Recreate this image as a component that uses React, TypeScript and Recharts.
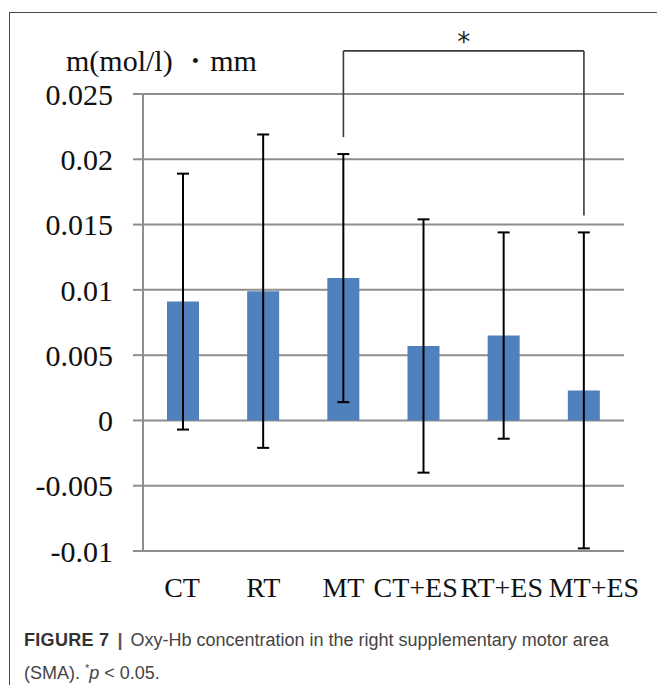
import React from 'react';
import { BarChart, Bar, XAxis, YAxis, CartesianGrid, ErrorBar, ReferenceLine, Label } from 'recharts';

const categories = ['CT', 'RT', 'MT', 'CT+ES', 'RT+ES', 'MT+ES'];
const meanValues = [0.0091, 0.0099, 0.0109, 0.0057, 0.0065, 0.0023];
const sdValues = [0.0098, 0.012, 0.0095, 0.0097, 0.0079, 0.0121];
const yTicks = [-0.01, -0.005, 0, 0.005, 0.01, 0.015, 0.02, 0.025];
const bracketTop = 0.0283;
const bracketLeftBottom = 0.0217;
const bracketRightBottom = 0.0157;
const bracketFrom = 'MT';
const bracketTo = 'MT+ES';

// horizontal nudges of the category labels (as in the source, long labels are shifted to avoid overlap)
const labelNudge = [-1, 0, 0, -8, -2, 10];

const data = categories.map((c, i) => ({ name: c, value: meanValues[i], err: sdValues[i] }));

const serif = '"Liberation Serif", "Times New Roman", serif';
const gridColor = '#8e8e8e';
const bracketColor = '#3a3a3a';

const CategoryTick = (props: any) => {
  const { x, y, payload } = props;
  const idx = payload && typeof payload.index === 'number' ? payload.index : categories.indexOf(payload.value);
  const dx = labelNudge[idx] || 0;
  return (
    <text x={x + dx} y={y} dy="0.71em" textAnchor="middle" fontSize={28} fontFamily={serif} fill="#111">
      {payload.value}
    </text>
  );
};

export default function App() {
  return (
    <div style={{ position: 'absolute', left: 0, top: 0, width: 657, height: 685, overflow: 'hidden', background: '#fff' }}>
      <div style={{ position: 'absolute', left: 9, top: 12, width: 720, height: 720, border: '1.5px solid #4a4a4a', boxSizing: 'border-box' }} />
      <div style={{ position: 'absolute', left: 0, top: 0 }}>
        <BarChart width={657} height={620} data={data} margin={{ top: 94, right: 33, bottom: 29, left: 0 }}>
          <CartesianGrid vertical={false} stroke={gridColor} strokeWidth={2} />
          <XAxis
            dataKey="name"
            height={40}
            axisLine={{ stroke: gridColor, strokeWidth: 2 }}
            tickLine={false}
            tickSize={6}
            tickMargin={20}
            interval={0}
            tick={<CategoryTick />}
          />
          <YAxis
            width={143}
            domain={[-0.01, 0.025]}
            ticks={yTicks}
            interval={0}
            allowDataOverflow
            axisLine={{ stroke: gridColor, strokeWidth: 2 }}
            tickLine={{ stroke: gridColor, strokeWidth: 2 }}
            tickSize={10}
            tickMargin={20}
            tickFormatter={(v: number) => String(v)}
            tick={{ fontSize: 30, fontFamily: serif, fill: '#111' }}
          />
          <Bar dataKey="value" fill="#4f81bd" barSize={32} isAnimationActive={false}>
            <ErrorBar dataKey="err" direction="y" width={6} stroke="#000" strokeWidth={2} isAnimationActive={false} />
          </Bar>
          <ReferenceLine
            segment={[{ x: bracketFrom, y: bracketTop }, { x: bracketTo, y: bracketTop }]}
            stroke={bracketColor}
            strokeWidth={1.6}
            ifOverflow="visible"
          >
            <Label value="*" position="top" offset={0} fontSize={26} fontFamily={'"DejaVu Sans", sans-serif'} fill="#222" />
          </ReferenceLine>
          <ReferenceLine
            segment={[{ x: bracketFrom, y: bracketTop }, { x: bracketFrom, y: bracketLeftBottom }]}
            stroke={bracketColor}
            strokeWidth={1.6}
            ifOverflow="visible"
          />
          <ReferenceLine
            segment={[{ x: bracketTo, y: bracketTop }, { x: bracketTo, y: bracketRightBottom }]}
            stroke={bracketColor}
            strokeWidth={1.6}
            ifOverflow="visible"
          />
        </BarChart>
      </div>
      <svg style={{ position: 'absolute', left: 0, top: 0 }} width={657} height={100}>
        <text x={66} y={71} fontSize={30} fontFamily={serif} fill="#111">m(mol/l) ・mm</text>
      </svg>
      <div
        style={{
          position: 'absolute',
          left: 24,
          top: 626,
          whiteSpace: 'nowrap',
          fontFamily: '"Liberation Sans", Arial, sans-serif',
          fontSize: 18,
          lineHeight: '28px',
          color: '#444',
        }}
      >
        <span style={{ fontWeight: 700, color: '#333', letterSpacing: 0.3 }}>FIGURE 7</span>
        <span style={{ margin: '0 8px', color: '#555', fontWeight: 700 }}>|</span>Oxy-Hb concentration in the right supplementary motor area
        <br />
        (SMA). <sup style={{ fontSize: 11 }}>*</sup><i>p</i> &lt; 0.05.
      </div>
    </div>
  );
}
